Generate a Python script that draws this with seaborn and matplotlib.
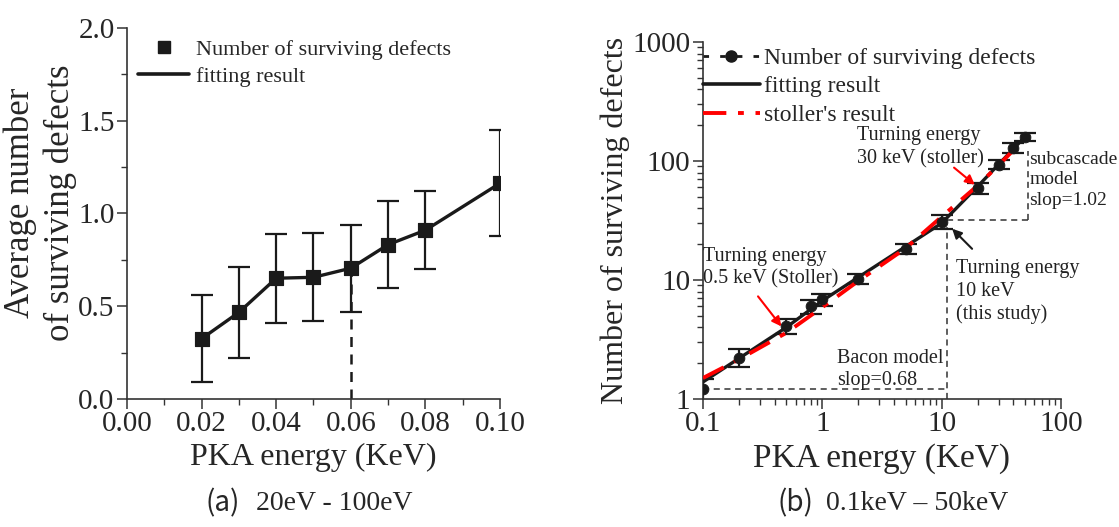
import numpy as np
import pandas as pd
import matplotlib
matplotlib.use("Agg")
import matplotlib.pyplot as plt
import matplotlib.ticker as mticker
from matplotlib.lines import Line2D
import seaborn as sns

# (a) 20eV - 100eV
energia_a = [0.02, 0.03, 0.04, 0.05, 0.06, 0.07, 0.08, 0.10]
defectos_a = [0.325, 0.467, 0.651, 0.656, 0.705, 0.832, 0.91, 1.163]
error_a = [0.235, 0.245, 0.24, 0.237, 0.235, 0.234, 0.21, 0.285]

# (b) 0.1keV - 50keV
energia_b = [0.1, 0.2, 0.5, 0.8, 1, 2, 5, 10, 20, 30, 40, 50]
defectos_b = [1.22, 2.23, 4.08, 6.0, 6.9, 10.2, 18.3, 31, 59, 93, 129, 160]
error_b = [0.26, 0.38, 0.58, 0.8, 0.8, 1.0, 1.7, 4.0, 6.0, 8.0, 12, 13]

# fitting result and stoller's result
ajuste_x = [0.1, 0.5, 1, 10, 20, 50]
ajuste_y = [1.39, 4.0, 6.7, 30, 61, 160]
stoller_x = [0.1, 0.2, 0.5, 1, 2, 5, 10, 20, 30, 50]
stoller_y = [1.5, 2.15, 3.6, 5.9, 9.8, 18.5, 34, 62, 92, 155]

df_a = pd.DataFrame({'E': energia_a, 'N': defectos_a})
df_b = pd.DataFrame({'E': energia_b, 'N': defectos_b})

sns.set_theme(style="ticks")
plt.rcParams['font.family'] = ['Liberation Serif', 'Noto Sans CJK SC']

fig = plt.figure(figsize=(11.19, 5.27), dpi=100)
ax1 = fig.add_axes([0.1135, 0.2429, 0.3333, 0.704])
ax2 = fig.add_axes([0.6282, 0.2429, 0.3199, 0.6774])

for ax in (ax1, ax2):
    sns.despine(ax=ax)
    for s in ('left', 'bottom'):
        ax.spines[s].set_linewidth(1.2)
        ax.spines[s].set_color('#333333')
    ax.tick_params(which='major', direction='out', length=7, width=1.1,
                   labelsize=21, color='#333333', pad=2)
    ax.tick_params(which='minor', direction='out', length=4, width=1.0,
                   color='#333333')

# ---------- panel (a)
ax1.errorbar(energia_a, defectos_a, yerr=error_a, fmt='none', ecolor='k',
             elinewidth=1.6, capsize=8, capthick=1.6, zorder=2)
sns.lineplot(data=df_a, x='E', y='N', ax=ax1, color='k', lw=2.4, zorder=3)
sns.scatterplot(data=df_a, x='E', y='N', ax=ax1, marker='s', s=110,
                color='k', edgecolor='k', zorder=4)
ax1.plot([0.06, 0.06], [0, 0.705], ls=(0, (4, 3)), color='k', lw=1.8, zorder=1)

ax1.set_xlim(0, 0.10)
ax1.set_ylim(0, 2.0)
ax1.xaxis.set_major_locator(mticker.MultipleLocator(0.02))
ax1.xaxis.set_minor_locator(mticker.MultipleLocator(0.01))
ax1.xaxis.set_major_formatter(mticker.FormatStrFormatter('%.2f'))
ax1.yaxis.set_major_locator(mticker.MultipleLocator(0.5))
ax1.yaxis.set_minor_locator(mticker.MultipleLocator(0.25))
ax1.yaxis.set_major_formatter(mticker.FormatStrFormatter('%.1f'))
ax1.set_xlabel('PKA energy (KeV)', fontsize=23, labelpad=4)
ax1.set_ylabel('Average number\nof surviving defects', fontsize=25,
               linespacing=1.25)
ax1.yaxis.set_label_coords(-0.135, 0.53)

handles_a = [Line2D([], [], ls='none', marker='s', color='k', markersize=9),
             Line2D([], [], color='k', lw=2.6)]
ax1.legend(handles_a, ['Number of surviving defects', 'fitting result'],
           loc='upper left', bbox_to_anchor=(0.03, 0.97), frameon=False,
           fontsize=16, handlelength=2.3, handletextpad=0.3,
           labelspacing=0.3, borderpad=0, borderaxespad=0)

# ---------- panel (b)
ax2.set_xscale('log')
ax2.set_yscale('log')
ax2.errorbar(energia_b, defectos_b, yerr=error_b, fmt='none', ecolor='k',
             elinewidth=1.6, capsize=8, capthick=1.6, zorder=2)
sns.lineplot(x=ajuste_x, y=ajuste_y, ax=ax2, color='k', lw=2.4, zorder=3)
sns.lineplot(x=stoller_x, y=stoller_y, ax=ax2, color='red', lw=2.8,
             dashes=False, zorder=4)
ax2.lines[-1].set_linestyle((0, (6, 3, 1.5, 3)))
sns.scatterplot(data=df_b, x='E', y='N', ax=ax2, marker='o', s=60,
                color='k', edgecolor='k', zorder=5)

# dashed guide lines
guia = dict(ls=(0, (4, 3)), color='#333333', lw=1.1, zorder=1)
ax2.plot([0.1, 11], [1.22, 1.22], **guia)
ax2.plot([11, 11], [1, 28], **guia)
ax2.plot([11, 53], [32, 32], **guia)
ax2.plot([53, 53], [32, 121], **guia)

ax2.set_xlim(0.1, 100)
ax2.set_ylim(1, 1000)
ax2.xaxis.set_major_locator(mticker.FixedLocator([0.1, 1, 10, 100]))
ax2.xaxis.set_major_formatter(mticker.FixedFormatter(['0.1', '1', '10', '100']))
ax2.xaxis.set_minor_locator(mticker.LogLocator(base=10, subs=np.arange(2, 10)))
ax2.xaxis.set_minor_formatter(mticker.NullFormatter())
ax2.yaxis.set_major_locator(mticker.FixedLocator([1, 10, 100, 1000]))
ax2.yaxis.set_major_formatter(mticker.FixedFormatter(['1', '10', '100', '1000']))
ax2.yaxis.set_minor_locator(mticker.LogLocator(base=10, subs=np.arange(2, 10)))
ax2.yaxis.set_minor_formatter(mticker.NullFormatter())
ax2.set_xlabel('PKA energy (KeV)', fontsize=24, labelpad=4)
ax2.set_ylabel('Number of surviving defects', fontsize=23, labelpad=2)

handles_b = [Line2D([], [], color='k', lw=2, ls=(0, (2, 4)), marker='o',
                    markersize=8),
             Line2D([], [], color='k', lw=2.6),
             Line2D([], [], color='red', lw=2.8, ls=(0, (6, 3, 1.5, 3)))]
ax2.legend(handles_b, ['Number of surviving defects', 'fitting result',
                       "stoller's result"],
           loc='upper left', bbox_to_anchor=(0.0, 0.985), frameon=False,
           fontsize=17, handlelength=2.4, handletextpad=0.2,
           labelspacing=0.3, borderpad=0, borderaxespad=0)

nota = dict(fontsize=14.5, color='#222222', linespacing=1.25, va='top', ha='left')
ax2.text(0.1, 19, 'Turning energy\n0.5 keV (Stoller)', **nota)
ax2.text(1.95, 195, 'Turning energy\n30 keV (stoller)', **nota)
ax2.text(13.2, 15, 'Turning energy\n10 keV\n(this study)', **nota)
ax2.text(1.32, 2.65, 'Bacon model\nslop=0.68', **nota)
nota['fontsize'] = 14
ax2.text(54.5, 121, 'subcascade\nmodel\nslop=1.02', **nota)

ax2.annotate('', xy=(0.47, 3.9), xytext=(0.28, 7.6),
             arrowprops=dict(arrowstyle='-|>', color='red', lw=1.5,
                             mutation_scale=14))
ax2.annotate('', xy=(19.8, 61), xytext=(12.2, 91),
             arrowprops=dict(arrowstyle='-|>', color='red', lw=1.5,
                             mutation_scale=14))
ax2.annotate('', xy=(11.8, 28), xytext=(18.7, 17.6),
             arrowprops=dict(arrowstyle='-|>', color='k', lw=1.5,
                             mutation_scale=14))

# captions
cjk = ['Noto Sans CJK SC', 'DejaVu Sans']
y_cap = 1 - 503 / 527
fig.text(205 / 1119, y_cap, '(a)', fontsize=20, family=cjk,
         ha='left', va='center')
fig.text(256 / 1119, y_cap, '20eV - 100eV', fontsize=20,
         ha='left', va='center')
fig.text(777 / 1119, y_cap, '(b)', fontsize=20, family=cjk,
         ha='left', va='center')
fig.text(826 / 1119, y_cap, '0.1keV – 50keV', fontsize=20,
         ha='left', va='center')

fig.savefig('out.png', dpi=100)
